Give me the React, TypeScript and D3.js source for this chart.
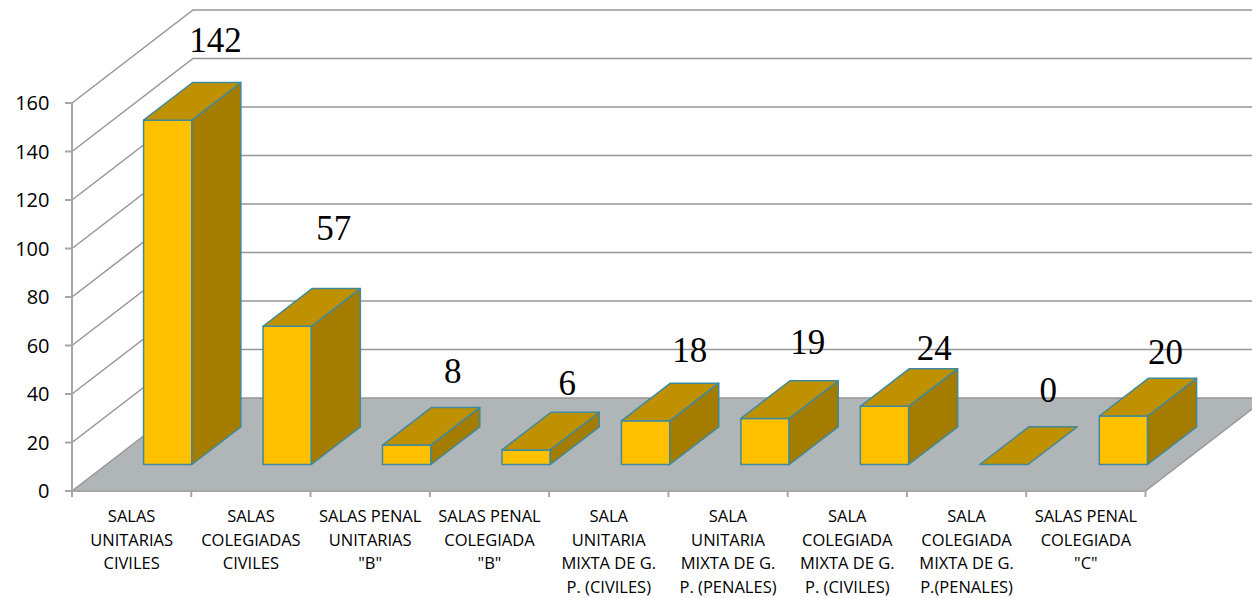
import React from "react";
import * as d3 from "d3";

const categories: string[][] = [
  ["SALAS", "UNITARIAS", "CIVILES"],
  ["SALAS", "COLEGIADAS", "CIVILES"],
  ["SALAS PENAL", "UNITARIAS", '"B"'],
  ["SALAS PENAL", "COLEGIADA", '"B"'],
  ["SALA", "UNITARIA", "MIXTA DE G.", "P. (CIVILES)"],
  ["SALA", "UNITARIA", "MIXTA DE G.", "P. (PENALES)"],
  ["SALA", "COLEGIADA", "MIXTA DE G.", "P. (CIVILES)"],
  ["SALA", "COLEGIADA", "MIXTA DE G.", "P.(PENALES)"],
  ["SALAS PENAL", "COLEGIADA", '"C"'],
];
const values = [142, 57, 8, 6, 18, 19, 24, 0, 20];
const yTicks = [0, 20, 40, 60, 80, 100, 120, 140, 160];

// layout: nudge of each value label from the back edge of its bar's top
const labelNudgeX = [-25.5, -26.5, -27, -32, -29, -30.5, -23.5, -29, -31];
const labelNudgeY = [-42, -61, -36, -29, -33, -39, -21, -37, -26];

const WIDTH = 1252;
const HEIGHT = 598;
const depthX = 121;
const depthY = -93;
const frontStart = 0.285;
const barDepth = 0.405;
const barShift = 1;

const y = d3.scaleLinear().domain([0, 160]).range([491, 103]);
const x = d3.scaleBand<number>().domain(d3.range(values.length)).range([72, 1145.5]);
const xBars = d3.scaleBand<number>().domain(d3.range(values.length)).range([72.5, 1147.7]);
const pts = (p: [number, number][]) => p.map((q) => q.join(",")).join(" ");

const GRID = "#969696";
const AXIS = "#a6a6a6";
const EDGE = "#3f8a9c";

export default function App() {
  const bandW = x.bandwidth();
  const barW = bandW * 0.405;
  const dxF = depthX * frontStart + barShift;
  const dyF = depthY * frontStart;
  const dxB = depthX * barDepth;
  const dyB = depthY * barDepth;
  const base = y(0);
  const barLeft = (i: number) => xBars(i)! + (xBars.bandwidth() - barW) / 2 + dxF;
  return (
    <svg
      width={WIDTH}
      height={HEIGHT}
      style={{ position: "absolute", left: 0, top: 0, background: "#fff" }}
    >
      {/* floor */}
      <polygon
        points={pts([
          [72, base],
          [1145.5, base],
          [1145.5 + depthX, base + depthY],
          [72 + depthX, base + depthY],
        ])}
        fill="#b0b5b8"
      />
      {/* wall gridlines */}
      {yTicks.map((t) => (
        <polyline
          key={t}
          points={pts([
            [72, y(t)],
            [72 + depthX, y(t) + depthY],
            [WIDTH, y(t) + depthY],
          ])}
          fill="none"
          stroke={GRID}
          strokeWidth={1.5}
        />
      ))}
      <line x1={1145.5} y1={base} x2={1145.5 + depthX} y2={base + depthY} stroke={GRID} strokeWidth={1.5} />
      {/* axes */}
      <line x1={72} y1={y(160)} x2={72} y2={base} stroke={AXIS} strokeWidth={2} />
      <line x1={72} y1={base} x2={1145.5} y2={base} stroke={AXIS} strokeWidth={2} />
      {yTicks.map((t) => (
        <g key={t}>
          <line x1={65} x2={72} y1={y(t)} y2={y(t)} stroke={AXIS} strokeWidth={2} />
          <text
            x={49.5}
            y={y(t)}
            dy="0.36em"
            textAnchor="end"
            fontFamily="'Open Sans', sans-serif"
            fontSize={20}
            fill="#000"
          >
            {t}
          </text>
        </g>
      ))}
      {d3.range(values.length + 1).map((i) => {
        const tx = 72 + i * bandW;
        return <line key={i} x1={tx} x2={tx} y1={base} y2={base + 6} stroke={AXIS} strokeWidth={2} />;
      })}
      {/* bars */}
      {values.map((v, i) => {
        const x0 = barLeft(i);
        const x1 = x0 + barW;
        const yB = base + dyF;
        const h = base - y(v);
        const yT = yB - h;
        return (
          <g key={i} stroke={EDGE} strokeWidth={1.5} strokeLinejoin="round">
            {v > 0 && <rect x={x0} y={yT} width={barW} height={h} fill="#ffc000" />}
            {v > 0 && (
              <polygon
                points={pts([
                  [x1, yB],
                  [x1 + dxB, yB + dyB],
                  [x1 + dxB, yT + dyB],
                  [x1, yT],
                ])}
                fill="#a37c00"
              />
            )}
            <polygon
              points={pts([
                [x0, yT],
                [x1, yT],
                [x1 + dxB, yT + dyB],
                [x0 + dxB, yT + dyB],
              ])}
              fill="#bf9000"
            />
          </g>
        );
      })}
      {/* value labels */}
      {values.map((v, i) => {
        const x0 = barLeft(i);
        const yT = base + dyF - (base - y(v));
        return (
          <text
            key={i}
            x={x0 + barW + dxB + labelNudgeX[i]}
            y={yT + dyB + labelNudgeY[i]}
            dy="0.34em"
            textAnchor="middle"
            fontFamily="'Liberation Serif', serif"
            fontSize={35}
            fill="#000"
          >
            {v}
          </text>
        );
      })}
      {/* category labels */}
      {categories.map((lines, i) => (
        <text
          key={i}
          textAnchor="middle"
          fontFamily="'Open Sans', sans-serif"
          fontSize={16.5}
          fill="#000"
        >
          {lines.map((l, j) => (
            <tspan key={j} x={x(i)! + bandW / 2} y={516 + j * 23.6} dy="0.36em">
              {l}
            </tspan>
          ))}
        </text>
      ))}
    </svg>
  );
}
